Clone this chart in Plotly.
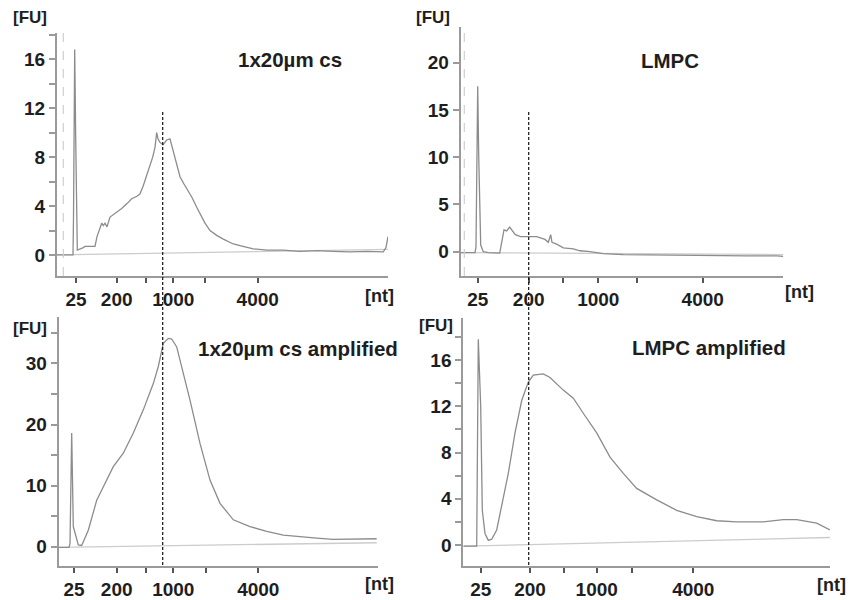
import plotly.graph_objects as go

# ---------------- data (migration-time units vs fluorescence [FU]) ----------------
TICK_TEXT = ["25", "200", "", "1000", "", "4000"]

P1_TICKS = [19, 59.7, 88.7, 116.3, 148, 200.7]
P1_T = [0, 16, 16.5, 17.7, 18.7, 19.5, 20.3, 26.3, 28, 38, 40, 44.7, 46.3, 48, 50, 53, 60,
        64.7, 70, 74.7, 80, 83, 86, 89.7, 95.7, 98, 99.7, 101, 103, 106, 109.7, 113, 114,
        116.3, 119, 123, 127, 131.3, 135, 139.7, 144, 148, 153, 159.7, 166.3, 176.3, 186,
        196.3, 210, 226, 243, 260, 276, 293, 310, 326.3, 329, 331]
P1_FU = [0, 0, 3.0, 16.8, 9.5, 5.0, 0.4, 0.6, 0.7, 0.7, 1.5, 2.6, 2.4, 2.6, 2.3, 3.1, 3.5,
         3.8, 4.2, 4.6, 4.8, 5.0, 5.6, 6.5, 8.0, 8.8, 10.0, 9.5, 9.2, 9.0, 9.4, 9.5, 9.2,
         8.6, 7.6, 6.4, 5.8, 5.2, 4.7, 3.9, 3.2, 2.6, 2.0, 1.6, 1.3, 0.9, 0.7,
         0.5, 0.4, 0.4, 0.3, 0.35, 0.3, 0.25, 0.3, 0.25, 0.6, 1.5]
P1_BASE_T = [0, 331]
P1_BASE_FU = [0, 0.45]
P1_MARK = 105.7
P1_START = 6.3

P2_TICKS = [17, 68, 102.6, 137.6, 176, 242]
P2_T = [0, 14.3, 15.3, 17, 18, 20, 22.6, 27.6, 39, 43.3, 46, 49, 54.6, 60, 70, 76, 84.3,
        87.6, 90, 91.3, 96, 102.6, 112.6, 119.3, 129.3, 142.6, 162.6, 202.6, 242.6, 286,
        316, 322.6]
P2_FU = [-0.1, -0.1, 0.5, 17.5, 10.2, 0.7, 0.0, -0.1, -0.15, 2.3, 2.2, 2.6, 1.8, 1.6, 1.6,
         1.6, 1.3, 1.0, 1.8, 1.0, 0.8, 0.4, 0.3, 0.1, 0.0, -0.2, -0.3, -0.35, -0.45, -0.45,
         -0.45, -0.5]
P2_BASE_T = [0, 322.6]
P2_BASE_FU = [-0.1, -0.3]
P2_MARK = 68
P2_START = 3.6

P3_TICKS = [15.3, 58, 87, 114.6, 147, 199.6]
P3_T = [0, 10.3, 11.3, 13, 14.6, 17.3, 19.6, 23, 29.6, 38, 44.6, 54.6, 64.6, 74.6, 84.6,
        94.6, 99.6, 104.6, 109.6, 113, 118, 124.6, 131.3, 141.3, 151.3, 161.3, 174.6,
        191.3, 208, 224.6, 241.3, 258, 274.6, 308, 318]
P3_FU = [-0.1, -0.1, 0.5, 18.6, 3.3, 1.5, 0.3, 0.2, 2.7, 7.6, 9.8, 13.1, 15.3, 18.6, 22.4,
         26.7, 29.5, 33.3, 34.1, 34.0, 32.7, 28.4, 24.0, 16.9, 10.9, 7.1, 4.4,
         3.3, 2.5, 1.9, 1.6, 1.4, 1.2, 1.2, 1.3]
P3_BASE_T = [0, 318]
P3_BASE_FU = [-0.1, 0.65]

P4_TICKS = [17.4, 66.7, 101, 133.4, 169, 230]
P4_T = [0, 13.4, 15, 17.4, 19, 21.7, 25, 28.4, 33.4, 38.4, 45, 51.7, 58.4, 65, 70, 80,
        86.7, 100, 110, 120, 133.4, 146.7, 160, 173.4, 193.4, 213.4, 233.4, 253.4, 273.4,
        300, 320, 333.4, 353.4, 366.7]
P4_FU = [-0.1, -0.1, 17.8, 12.0, 3.0, 1.0, 0.4, 0.5, 1.3, 3.3, 6.2, 9.7, 12.5, 14.1, 14.7,
         14.8, 14.5, 13.4, 12.7, 11.4, 9.7, 7.6, 6.2, 4.9, 3.9, 3.0, 2.45, 2.1, 2.0,
         2.0, 2.2, 2.2, 1.9, 1.3]
P4_BASE_T = [0, 366.7]
P4_BASE_FU = [-0.1, 0.65]

TITLES = ["1x20µm cs", "LMPC", "1x20µm cs amplified", "LMPC amplified"]

# ---------------- layout helpers ----------------
OFF = 8                      # default page body margin
W, H = 859 - OFF, 600 - OFF


def px(x):
    return (x - OFF) / W


def py(y):
    return 1 - (y - OFF) / H


FONT = "Liberation Sans, Arial, sans-serif"
TRACE_C = "#8c8c8c"
BASE_C = "#cccccc"
AXIS_C = "#9a9a9a"
TXT_C = "#1e1e1e"

fig = go.Figure()

panels = [
    (P1_T, P1_FU, P1_BASE_T, P1_BASE_FU, "x", "y"),
    (P2_T, P2_FU, P2_BASE_T, P2_BASE_FU, "x2", "y2"),
    (P3_T, P3_FU, P3_BASE_T, P3_BASE_FU, "x3", "y3"),
    (P4_T, P4_FU, P4_BASE_T, P4_BASE_FU, "x4", "y4"),
]
for t, fu, bt, bf, xa, ya in panels:
    fig.add_trace(go.Scatter(x=bt, y=bf, xaxis=xa, yaxis=ya, mode="lines",
                             line=dict(color=BASE_C, width=1.3), hoverinfo="skip"))
    fig.add_trace(go.Scatter(x=t, y=fu, xaxis=xa, yaxis=ya, mode="lines",
                             line=dict(color=TRACE_C, width=1.3)))


def xaxis(domain, rng, ticks, anchor):
    return dict(domain=domain, range=rng, anchor=anchor, tickmode="array",
                tickvals=ticks, ticktext=TICK_TEXT, ticks="outside", ticklen=5,
                tickwidth=2, tickcolor="#555555", showline=True, linecolor=AXIS_C,
                linewidth=2, showgrid=False, zeroline=False, automargin=False,
                tickfont=dict(family=FONT, size=19, color=TXT_C, weight="bold"))


def yaxis(domain, rng, dtick, minor, anchor):
    d = dict(domain=domain, range=rng, anchor=anchor, tickmode="linear", tick0=0,
             dtick=dtick, ticks="outside", ticklen=6, tickwidth=2, tickcolor=AXIS_C,
             showline=True, linecolor=AXIS_C, linewidth=2, showgrid=False,
             zeroline=False, automargin=False,
             tickfont=dict(family=FONT, size=19, color=TXT_C, weight="bold"))
    if minor:
        d["minor"] = dict(dtick=minor, tick0=0, ticks="outside", ticklen=6,
                          tickwidth=2, tickcolor=AXIS_C, showgrid=False)
    return d


fig.update_layout(
    width=W, height=H, margin=dict(l=0, r=0, t=0, b=0, autoexpand=False),
    paper_bgcolor="white", plot_bgcolor="white", showlegend=False,
    xaxis=xaxis([px(57), px(388)], [0, 331], P1_TICKS, "y"),
    yaxis=yaxis([py(276), py(33)], [-1.72, 18.15], 4, 2, "x"),
    xaxis2=xaxis([px(460.7), px(783.3)], [0, 322.6], P2_TICKS, "y2"),
    yaxis2=yaxis([py(276), py(26.7)], [-2.57, 23.8], 5, None, "x2"),
    xaxis3=xaxis([px(58.7), px(378)], [0, 319.3], P3_TICKS, "y3"),
    yaxis3=yaxis([py(565.7), py(317)], [-3.11, 37.6], 10, 5, "x3"),
    xaxis4=xaxis([px(463.3), px(830)], [0, 366.7], P4_TICKS, "y4"),
    yaxis4=yaxis([py(565.7), py(318)], [-1.79, 19.64], 4, 2, "x4"),
)

# size-marker dashed lines (span upper and lower panels)
fig.add_shape(type="line", xref="x", yref="paper", x0=P1_MARK, x1=P1_MARK,
              y0=py(565), y1=py(111.7), line=dict(color="#111111", width=1.2, dash="3px,2px"))
fig.add_shape(type="line", xref="x2", yref="paper", x0=P2_MARK, x1=P2_MARK,
              y0=py(565), y1=py(111.7), line=dict(color="#111111", width=1.2, dash="3px,2px"))
# light start markers
fig.add_shape(type="line", xref="x", yref="y domain", x0=P1_START, x1=P1_START,
              y0=0, y1=1, line=dict(color="#cfcfcf", width=1.2, dash="dash"))
fig.add_shape(type="line", xref="x2", yref="y2 domain", x0=P2_START, x1=P2_START,
              y0=0, y1=1, line=dict(color="#cfcfcf", width=1.2, dash="dash"))


def label(text, x, y, size, anchor="center"):
    fig.add_annotation(text=text, x=px(x), y=py(y), xref="paper", yref="paper",
                       showarrow=False, xanchor=anchor, yanchor="middle",
                       font=dict(family=FONT, size=size, color=TXT_C, weight="bold"))


for x, y in [(30, 17), (433, 17), (30, 328), (436, 325)]:
    label("[FU]", x, y, 17)
for x, y in [(379, 296), (799, 292), (379, 584), (831, 585)]:
    label("[nt]", x, y, 18)

label(TITLES[0], 290, 59, 20.5)
label(TITLES[1], 670, 61, 20.5)
label(TITLES[2], 298, 348, 20.5)
label(TITLES[3], 709, 347, 20.5)

fig.write_html("out.html")
